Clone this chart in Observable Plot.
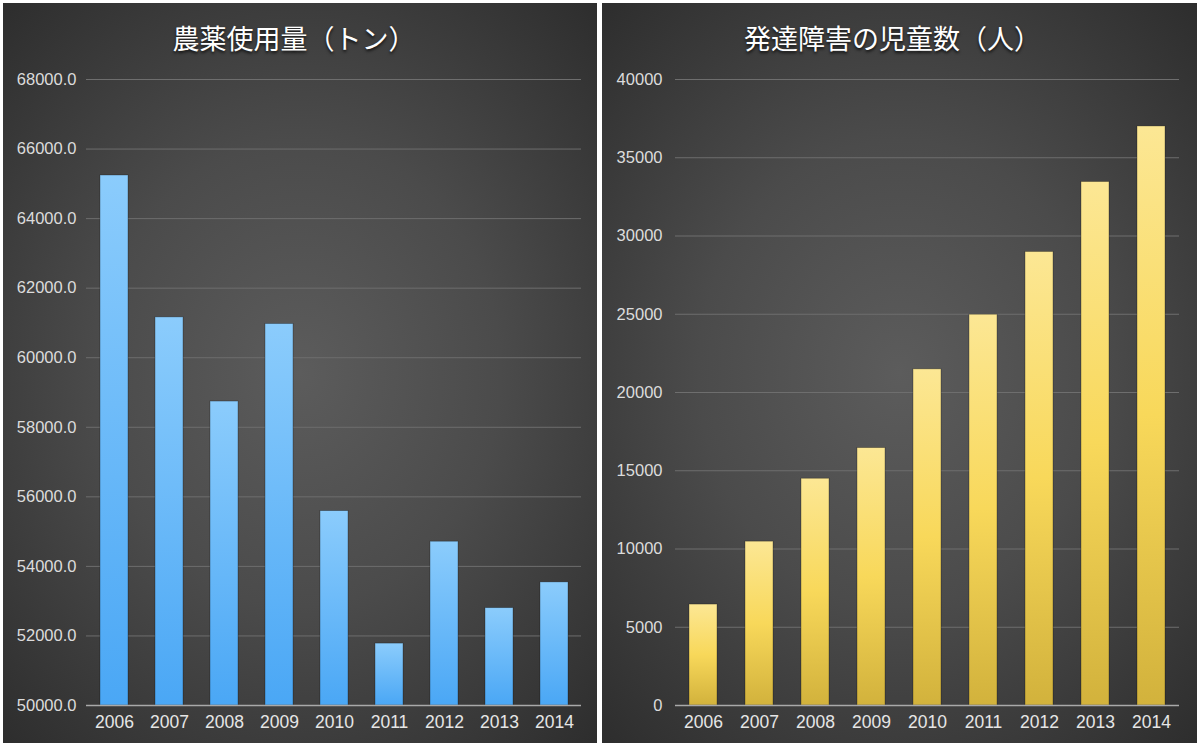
<!DOCTYPE html>
<html>
<head>
<meta charset="utf-8">
<script src="https://cdn.jsdelivr.net/npm/d3@7"></script>
<script src="https://cdn.jsdelivr.net/npm/@observablehq/plot@0.6"></script>
<style>
  html, body { margin: 0; padding: 0; background: #ffffff; width: 1200px; height: 747px; overflow: hidden; }
  .panel { position: absolute; top: 3px; height: 740px; overflow: hidden;
    background: radial-gradient(ellipse 75% 70% at 50% 50%, #5c5c5c 0%, #4b4b4b 45%, #2c2c2c 100%); }
  .title { position: absolute; top: 15px; left: 0; right: 0; text-align: center;
    font-family: "Noto Sans CJK JP", "Noto Sans", sans-serif; font-size: 27px; color: #ffffff;
    text-shadow: 0 2px 3px rgba(0,0,0,0.75); line-height: 40px; }
  .chart { position: absolute; top: 57px; left: 0; }
  .chart svg { background: transparent; overflow: visible; }
</style>
</head>
<body>
<div class="panel" id="left" style="left:3px;width:594px;"><div class="title" style="padding-right:12px">農薬使用量（トン）</div><div class="chart" id="leftChart"></div></div>
<div class="panel" id="right" style="left:602px;width:595px;"><div class="title" style="padding-right:14px">発達障害の児童数（人）</div><div class="chart" id="rightChart"></div></div>
<script>
const years = ["2006","2007","2008","2009","2010","2011","2012","2013","2014"];
const pesticideTons = [65240, 61160, 58740, 60970, 55590, 51780, 54710, 52800, 53540];
const childrenCount = [6450, 10470, 14490, 16450, 21480, 24970, 28980, 33450, 37000];
const leftTicks = [50000, 52000, 54000, 56000, 58000, 60000, 62000, 64000, 66000, 68000];
const rightTicks = [0, 5000, 10000, 15000, 20000, 25000, 30000, 35000, 40000];

const leftData = years.map((y, i) => ({year: y, value: pesticideTons[i]}));
const rightData = years.map((y, i) => ({year: y, value: childrenCount[i]}));

function addGradient(svg, id, stops) {
  const ns = "http://www.w3.org/2000/svg";
  const defs = document.createElementNS(ns, "defs");
  const lg = document.createElementNS(ns, "linearGradient");
  lg.setAttribute("id", id);
  lg.setAttribute("x1", "0"); lg.setAttribute("y1", "0");
  lg.setAttribute("x2", "0"); lg.setAttribute("y2", "1");
  for (const [off, col] of stops) {
    const s = document.createElementNS(ns, "stop");
    s.setAttribute("offset", off);
    s.setAttribute("stop-color", col);
    lg.appendChild(s);
  }
  defs.appendChild(lg);
  svg.insertBefore(defs, svg.firstChild);
}

function makeChart({data, ticks, domain, width, marginLeft, marginRight, tickPadding, fmt, gradId, stops}) {
  const base = domain[0];
  const svg = Plot.plot({
    width, height: 683,
    marginTop: 19, marginBottom: 38, marginLeft, marginRight,
    style: {background: "transparent", color: "#e2e2e2", fontFamily: "'Liberation Sans', Arial, sans-serif"},
    x: {domain: years, paddingInner: 0.5, paddingOuter: 0.25, label: null},
    y: {domain, label: null},
    marks: [
      Plot.gridY(ticks.filter(t => t !== base), {stroke: "#6e6e6e", strokeOpacity: 1, strokeWidth: 1}),
      Plot.barY(data, {x: "year", y1: () => base, y2: "value", fill: `url(#${gradId})`, stroke: "rgba(0,0,0,0.35)", strokeWidth: 0.8}),
      Plot.ruleY([base], {stroke: "#a9a9a9", strokeWidth: 1.6}),
      Plot.axisY(ticks, {tickSize: 0, tickPadding, tickFormat: fmt, fontSize: 16.5, fill: "#dcdcdc", label: null}),
      Plot.axisX({tickSize: 0, tickPadding: 10, fontSize: 17.5, fill: "#e6e6e6", label: null})
    ]
  });
  addGradient(svg, gradId, stops);
  return svg;
}

document.getElementById("leftChart").appendChild(makeChart({
  data: leftData, ticks: leftTicks, domain: [50000, 68000], width: 594,
  marginLeft: 83, marginRight: 16, tickPadding: 10, fmt: d3.format(".1f"),
  gradId: "blueGrad", stops: [["0%", "#8bccfc"], ["100%", "#4aa7f5"]]
}));

document.getElementById("rightChart").appendChild(makeChart({
  data: rightData, ticks: rightTicks, domain: [0, 40000], width: 595,
  marginLeft: 73, marginRight: 18, tickPadding: 13, fmt: d => String(d),
  gradId: "goldGrad", stops: [["0%", "#fce794"], ["50%", "#f8d85a"], ["100%", "#d2b23c"]]
}));
</script>
</body>
</html>
